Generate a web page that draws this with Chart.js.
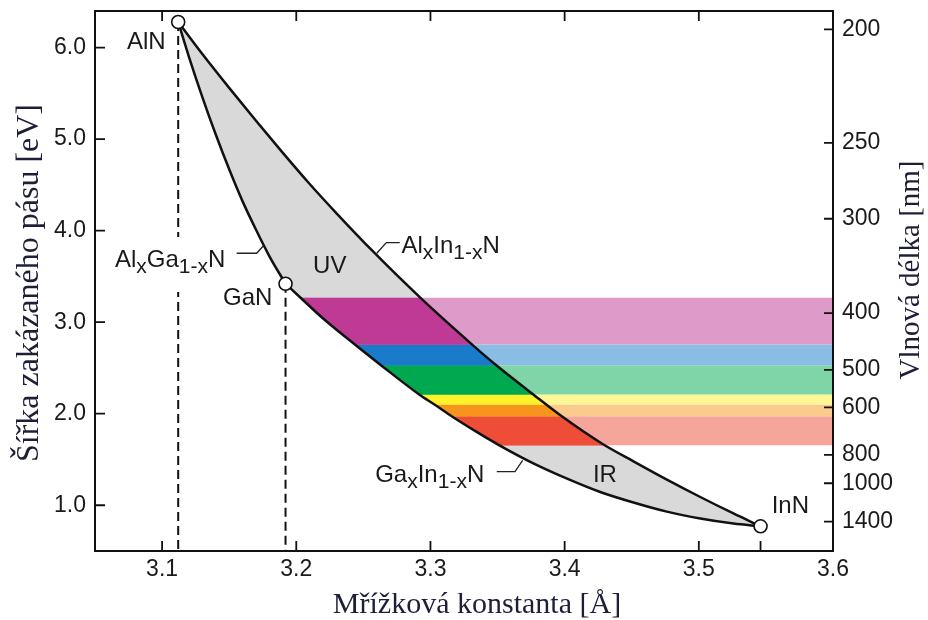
<!DOCTYPE html>
<html><head><meta charset="utf-8">
<script src="https://cdn.jsdelivr.net/npm/chart.js@4.4.1/dist/chart.umd.min.js"></script>
<style>html,body{margin:0;padding:0;background:#fff}#wrap{width:928px;height:620px}</style>
</head><body><div id="wrap"><canvas id="c" width="928" height="620"></canvas></div>
<script>
// ---------- data ----------
const compounds = ['AlN', 'GaN', 'InN'];
const compoundLattice = [3.112, 3.192, 3.546];
const compoundGap = [6.28, 3.42, 0.77];

// Al(x)Ga(1-x)N : AlN -> GaN
const alGaN_a = [3.112, 3.12, 3.13, 3.14, 3.15, 3.16, 3.17, 3.18, 3.192];
const alGaN_E = [6.28, 5.90, 5.46, 5.05, 4.67, 4.32, 4.01, 3.72, 3.42];
// Al(x)In(1-x)N : AlN -> InN
const alInN_a = [3.112, 3.13, 3.15, 3.17, 3.19, 3.21, 3.23, 3.2574, 3.293, 3.3315, 3.3486, 3.3771, 3.3971, 3.428, 3.4513, 3.4762, 3.5011, 3.5258, 3.546];
const alInN_E = [6.28, 5.93, 5.56, 5.20, 4.85, 4.51, 4.19, 3.77, 3.26, 2.75, 2.535, 2.205, 1.98, 1.672, 1.48, 1.28, 1.09, 0.91, 0.77];
// Ga(x)In(1-x)N : GaN -> InN
const gaInN_a = [3.192, 3.2032, 3.22, 3.2446, 3.2631, 3.2916, 3.303, 3.3158, 3.3335, 3.3514, 3.3771, 3.4027, 3.4265, 3.4513, 3.4762, 3.5011, 3.5258, 3.546];
const gaInN_E = [3.42, 3.267, 3.04, 2.745, 2.53, 2.21, 2.10, 1.973, 1.81, 1.655, 1.455, 1.285, 1.145, 1.03, 0.93, 0.855, 0.80, 0.77];

// visible-spectrum bands (eV)
const spectrumBands = ['fialová', 'modrá', 'zelená', 'žlutá', 'oranžová', 'červená'];
const bandTop = [3.267, 2.756, 2.53, 2.21, 2.10, 1.973];
const bandBottom = [2.756, 2.53, 2.21, 2.10, 1.973, 1.655];

// axes
const xTicks = [3.1, 3.2, 3.3, 3.4, 3.5, 3.6];
const eTicks = [1, 2, 3, 4, 5, 6];
const wavelengthLabels = [200, 250, 300, 400, 500, 600, 800, 1000, 1400];
const wavelengthTickEnergy = [6.2, 4.96, 4.13, 3.1, 2.48, 2.07, 1.55, 1.24, 0.82];

// ---------- styles ----------
const bandColor = ['#be3a94', '#1a7bcb', '#00a850', '#fff22a', '#f7941d', '#ee4e37'];
const bandLight = ['#de9bc9', '#89bde4', '#80d5a8', '#fff794', '#facb8d', '#f6a59a'];
const regionGray = '#d9d9d9';
const sans = '"Liberation Sans", Arial, sans-serif';
const serif = '"Liberation Serif", "Times New Roman", serif';
const titleColor = '#1e1e38';

// ---------- helpers ----------
const pts = (xs, ys) => xs.map((v, i) => ({x: v, y: ys[i]}));
function xAt(xs, ys, E) {
  for (let i = 0; i < ys.length - 1; i++) {
    if (ys[i] >= E && E >= ys[i + 1]) {
      const t = (ys[i] - E) / (ys[i] - ys[i + 1]);
      return xs[i] + t * (xs[i + 1] - xs[i]);
    }
  }
  return xs[xs.length - 1];
}
function pathBetween(xs, ys, hi, lo) {
  const out = [{x: xAt(xs, ys, hi), y: hi}];
  for (let i = 0; i < ys.length; i++) if (ys[i] < hi && ys[i] > lo) out.push({x: xs[i], y: ys[i]});
  out.push({x: xAt(xs, ys, lo), y: lo});
  return out;
}
const lower_a = alGaN_a.concat(gaInN_a.slice(1));
const lower_E = alGaN_E.concat(gaInN_E.slice(1));

const datasets = [];
// gray alloy region
datasets.push({
  data: pts(alInN_a, alInN_E)
    .concat(pts(gaInN_a, gaInN_E).reverse().slice(1))
    .concat(pts(alGaN_a, alGaN_E).reverse().slice(1)),
  fill: 'shape', backgroundColor: regionGray, borderWidth: 0, pointRadius: 0, tension: 0, order: 100
});
// light bands (from alloy to right edge)
bandTop.forEach((hi, i) => {
  const lo = bandBottom[i];
  const L = pathBetween(lower_a, lower_E, hi, lo).reverse();
  datasets.push({
    data: [{x: 3.6, y: hi}, {x: 3.6, y: lo}].concat(L),
    fill: 'shape', backgroundColor: bandLight[i], borderWidth: 0, pointRadius: 0, tension: 0, order: 90
  });
});
// saturated bands (inside alloy region)
bandTop.forEach((hi, i) => {
  const lo = bandBottom[i];
  const U = pathBetween(alInN_a, alInN_E, hi, lo);
  const L = pathBetween(lower_a, lower_E, hi, lo).reverse();
  datasets.push({
    data: U.concat(L),
    fill: 'shape', backgroundColor: bandColor[i], borderColor: bandColor[i], borderWidth: 0.5, pointRadius: 0, tension: 0, order: 80
  });
});
// dashed drop lines from AlN and GaN
[0, 1].forEach(k => {
  datasets.push({
    data: [{x: compoundLattice[k], y: compoundGap[k]}, {x: compoundLattice[k], y: 0.5}],
    borderColor: '#111', borderWidth: 2, borderDash: [9, 5], pointRadius: 0, fill: false, order: 50
  });
});
// alloy curves
[[alGaN_a, alGaN_E], [alInN_a, alInN_E], [gaInN_a, gaInN_E]].forEach(([a, E]) => {
  datasets.push({
    data: pts(a, E), borderColor: '#111', borderWidth: 2.5, pointRadius: 0, fill: false,
    cubicInterpolationMode: 'monotone', order: 10
  });
});
// binary compounds
datasets.push({
  data: pts(compoundLattice, compoundGap), showLine: false, pointRadius: 6.5,
  pointBackgroundColor: '#fff', pointBorderColor: '#111', pointBorderWidth: 1.6, order: 0
});

// text annotations (data coordinates, left edge / baseline)
const annotations = [
  {parts: [['AlN', 0]], x: 3.0738, y: 5.985},
  {parts: [['GaN', 0]], x: 3.1454, y: 3.188},
  {parts: [['InN', 0]], x: 3.5543, y: 0.912},
  {parts: [['UV', 0]], x: 3.2125, y: 3.538},
  {parts: [['IR', 0]], x: 3.4211, y: 1.254},
  {parts: [['Al', 0], ['x', 1], ['Ga', 0], ['1-x', 1], ['N', 0]], x: 3.0649, y: 3.603, knockout: true},
  {parts: [['Al', 0], ['x', 1], ['In', 0], ['1-x', 1], ['N', 0]], x: 3.2784, y: 3.753},
  {parts: [['Ga', 0], ['x', 1], ['In', 0], ['1-x', 1], ['N', 0]], x: 3.2588, y: 1.254}
];
const leaders = [
  [[3.1556, 3.753], [3.1705, 3.753], [3.1752, 3.83]],
  [[3.2600, 3.753], [3.2671, 3.869], [3.2771, 3.869]],
  [[3.3494, 1.367], [3.3630, 1.367], [3.3687, 1.49]]
];

function partsWidth(ctx, parts) {
  let w = 0;
  parts.forEach(([t, sub]) => { ctx.font = (sub ? 21 : 24) + 'px ' + sans; w += ctx.measureText(t).width; });
  return w;
}

const decor = {
  id: 'decor',
  afterDraw(chart) {
    const {ctx, chartArea: a, scales: {x, y, y2}} = chart;
    ctx.save();
    // white knockout behind labels that sit on a dashed line
    ctx.fillStyle = '#fff';
    annotations.filter(an => an.knockout).forEach(an => {
      const lx = x.getPixelForValue(an.x), ly = y.getPixelForValue(an.y);
      ctx.fillRect(lx - 2, ly - 30, partsWidth(ctx, an.parts) + 4, 55);
    });
    // frame
    ctx.strokeStyle = '#111';
    ctx.lineWidth = 2;
    ctx.strokeRect(a.left, a.top, a.right - a.left, a.bottom - a.top);
    // inward ticks
    ctx.lineWidth = 1.8;
    ctx.beginPath();
    const xMarks = x.ticks.map(t => t.value).filter(v => v < 3.59).concat([compoundLattice[2]]);
    xMarks.forEach(v => {
      const p = x.getPixelForValue(v);
      ctx.moveTo(p, a.bottom); ctx.lineTo(p, a.bottom - 10);
    });
    x.ticks.filter(t => t.value < 3.59).forEach(t => {
      const p = x.getPixelForValue(t.value);
      ctx.moveTo(p, a.top); ctx.lineTo(p, a.top + 10);
    });
    y.ticks.forEach(t => {
      const p = y.getPixelForValue(t.value);
      ctx.moveTo(a.left, p); ctx.lineTo(a.left + 10, p);
    });
    y2.ticks.forEach(t => {
      const p = y2.getPixelForValue(t.value);
      ctx.moveTo(a.right, p); ctx.lineTo(a.right - 9, p);
    });
    ctx.stroke();
    // leader lines
    ctx.lineWidth = 1.3;
    ctx.strokeStyle = '#222';
    leaders.forEach(l => {
      ctx.beginPath();
      l.forEach(([vx, vy], i) => {
        const px = x.getPixelForValue(vx), py = y.getPixelForValue(vy);
        i ? ctx.lineTo(px, py) : ctx.moveTo(px, py);
      });
      ctx.stroke();
    });
    // labels
    ctx.fillStyle = '#1a1a1a';
    ctx.textBaseline = 'alphabetic';
    ctx.textAlign = 'left';
    annotations.forEach(an => {
      let cx = x.getPixelForValue(an.x);
      const cy = y.getPixelForValue(an.y);
      an.parts.forEach(([t, sub]) => {
        ctx.font = (sub ? 21 : 24) + 'px ' + sans;
        ctx.fillText(t, cx, cy + (sub ? 6 : 0));
        cx += ctx.measureText(t).width;
      });
    });
    // axis titles
    ctx.fillStyle = titleColor;
    ctx.textAlign = 'center';
    ctx.font = '30px ' + serif;
    ctx.fillText('Mřížková konstanta [Å]', 477, 613);
    ctx.save();
    ctx.translate(38, 283);
    ctx.rotate(-Math.PI / 2);
    ctx.font = '32px ' + serif;
    ctx.fillText('Šířka zakázaného pásu [eV]', 0, 0);
    ctx.restore();
    ctx.save();
    ctx.translate(919, 270);
    ctx.rotate(-Math.PI / 2);
    ctx.font = '29px ' + serif;
    ctx.fillText('Vlnová délka [nm]', 0, 0);
    ctx.restore();
    ctx.restore();
  }
};

const noPad = s => { s.paddingTop = 0; s.paddingBottom = 0; s.paddingLeft = 0; s.paddingRight = 0; };
const tickFont = {family: sans, size: 23};
new Chart(document.getElementById('c'), {
  type: 'line',
  data: {datasets},
  options: {
    responsive: false, animation: false, devicePixelRatio: 1,
    layout: {padding: {top: 11, left: 0, right: 0, bottom: 0}},
    plugins: {legend: {display: false}, tooltip: {enabled: false}},
    scales: {
      x: {
        type: 'linear', position: 'bottom', min: 3.05, max: 3.6,
        afterBuildTicks: s => { s.ticks = xTicks.map(v => ({value: v})); },
        afterFit: s => { s.height = 69; noPad(s); },
        ticks: {font: tickFont, color: '#1a1a1a', padding: 5, autoSkip: false, maxRotation: 0,
                callback: v => Number(v).toFixed(1)},
        grid: {display: false, drawTicks: false}, border: {display: false}
      },
      y: {
        type: 'linear', position: 'left', min: 0.5, max: 6.4,
        afterBuildTicks: s => { s.ticks = eTicks.map(v => ({value: v})); },
        afterFit: s => { s.width = 95; noPad(s); },
        ticks: {font: tickFont, color: '#1a1a1a', padding: 9, autoSkip: false,
                callback: v => Number(v).toFixed(1)},
        grid: {display: false, drawTicks: false}, border: {display: false}
      },
      y2: {
        type: 'linear', position: 'right', min: 0.5, max: 6.4,
        afterBuildTicks: s => { s.ticks = wavelengthTickEnergy.map(v => ({value: v})); },
        afterFit: s => { s.width = 95; noPad(s); },
        ticks: {font: tickFont, color: '#1a1a1a', padding: 9, autoSkip: false,
                callback: (v, i) => String(wavelengthLabels[i])},
        grid: {display: false, drawTicks: false}, border: {display: false}
      }
    }
  },
  plugins: [decor]
});
</script>
</body></html>
